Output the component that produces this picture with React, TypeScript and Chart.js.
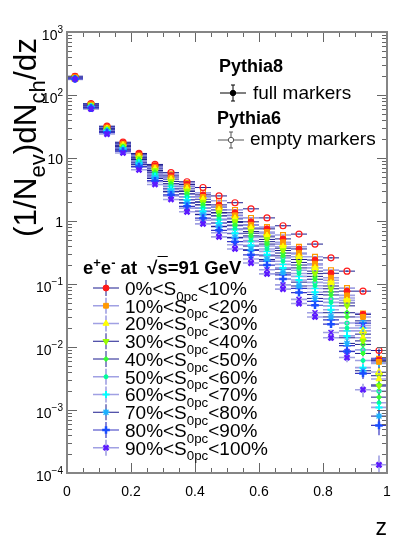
import React, { useEffect, useRef } from 'react';
import { Chart, registerables } from 'chart.js';
import { drawPoint } from 'chart.js/helpers';

Chart.register(...registerables);

const FONT = '"Liberation Sans", Arial, Helvetica, sans-serif';

// ---------------- data ----------------
const zCenters = [0.025, 0.075, 0.125, 0.175, 0.225, 0.275, 0.325, 0.375, 0.425, 0.475,
  0.525, 0.575, 0.625, 0.675, 0.725, 0.775, 0.825, 0.875, 0.925, 0.975];
const zHalfWidth = 0.025;

const sphLow = [0, 10, 20, 30, 40, 50, 60, 70, 80, 90];
const sphHigh = [10, 20, 30, 40, 50, 60, 70, 80, 90, 100];

// Pythia8 (full markers)
const p8_0 = [195, 72, 31, 17, 11.5, 7.5, 5.2, 3.8, 2.6, 1.8, 1.35, 0.97, 0.75, 0.52, 0.36, 0.24, 0.148, 0.077, 0.033, 0.0062];
const p8_1 = [192, 71, 30.5, 16.6, 11.0, 7.14, 4.9, 3.55, 2.41, 1.66, 1.23, 0.87, 0.67, 0.46, 0.31, 0.21, 0.126, 0.066, 0.030, 0.0058];
const p8_2 = [176, 63, 29.5, 16.1, 10.5, 6.77, 4.6, 3.28, 2.22, 1.51, 1.11, 0.78, 0.59, 0.39, 0.27, 0.18, 0.104, 0.055, 0.014, 0.0031];
const p8_3 = [188, 69, 29, 15.6, 10.0, 6.35, 4.24, 3.0, 2.0, 1.36, 0.98, 0.68, 0.51, 0.34, 0.22, 0.146, 0.084, 0.045, 0.0125, 0.0024];
const p8_4 = [186, 67, 28.5, 15.1, 9.45, 5.96, 3.9, 2.7, 1.81, 1.21, 0.86, 0.58, 0.43, 0.28, 0.18, 0.119, 0.067, 0.030, 0.0079, 0.0016];
const p8_5 = [184, 66, 27.5, 14.5, 8.9, 5.52, 3.54, 2.43, 1.61, 1.07, 0.75, 0.49, 0.36, 0.23, 0.147, 0.094, 0.051, 0.020, 0.0061, 0.0013];
const p8_6 = [183, 65, 27, 13.9, 8.3, 5.1, 3.19, 2.15, 1.42, 0.92, 0.64, 0.41, 0.29, 0.18, 0.116, 0.074, 0.039, 0.015, 0.0047, 0.0011];
const p8_7 = [182, 64, 26, 13.4, 7.8, 4.73, 2.9, 1.93, 1.26, 0.81, 0.55, 0.35, 0.245, 0.15, 0.093, 0.059, 0.030, 0.0114, 0.0042, 0.0008];
const p8_8 = [180, 62, 25.5, 12.9, 7.3, 4.36, 2.6, 1.71, 1.11, 0.71, 0.47, 0.29, 0.20, 0.12, 0.073, 0.046, 0.023, 0.0085, 0.0038, 0.00057];
const p8_9 = [178, 60, 24, 12.0, 6.5, 3.8, 2.2, 1.4, 0.9, 0.56, 0.36, 0.215, 0.145, 0.083, 0.049, 0.030, 0.014, 0.0068, 0.0021, 0.000135];

// Pythia6 (empty markers)
const p6_0 = [198, 73, 32, 17.8, 11.8, 7.9, 5.85, 4.2, 3.4, 2.5, 1.95, 1.56, 1.12, 0.84, 0.62, 0.43, 0.26, 0.16, 0.077, 0.0088];
const p6_1 = [196, 72, 31, 17.3, 11.6, 7.7, 5.5, 4.0, 2.8, 2.1, 1.5, 1.12, 0.8, 0.6, 0.39, 0.27, 0.166, 0.086, 0.034, 0.0065];
const p6_2 = [180, 65, 31, 17, 11.2, 7.2, 4.95, 3.55, 2.45, 1.66, 1.22, 0.86, 0.64, 0.43, 0.30, 0.2, 0.115, 0.06, 0.018, 0.004];
const p6_3 = [190, 70, 30, 16.5, 10.6, 6.8, 4.6, 3.25, 2.2, 1.5, 1.08, 0.75, 0.56, 0.37, 0.245, 0.16, 0.093, 0.05, 0.016, 0.0035];
const p6_4 = [188, 68, 29.5, 16, 10.1, 6.4, 4.25, 2.95, 2.0, 1.34, 0.95, 0.64, 0.47, 0.31, 0.2, 0.132, 0.075, 0.035, 0.011, 0.0025];
const p6_5 = [186, 67, 28.7, 15.4, 9.6, 6.0, 3.9, 2.68, 1.8, 1.2, 0.84, 0.55, 0.4, 0.26, 0.165, 0.106, 0.058, 0.024, 0.009, 0.002];
const p6_6 = [185, 66, 28, 14.8, 9.0, 5.6, 3.55, 2.4, 1.6, 1.04, 0.73, 0.47, 0.33, 0.205, 0.132, 0.085, 0.045, 0.018, 0.02, 0.0055];
const p6_7 = [184, 65, 27.3, 14.3, 8.5, 5.2, 3.25, 2.18, 1.43, 0.93, 0.63, 0.4, 0.28, 0.172, 0.107, 0.068, 0.035, 0.014, 0.026, 0.0062];
const p6_8 = [182, 63, 26.6, 13.8, 8.0, 4.8, 2.95, 1.95, 1.27, 0.82, 0.54, 0.34, 0.23, 0.14, 0.085, 0.053, 0.027, 0.0105, 0.024, 0.0066];
const p6_9 = [180, 61, 25.2, 12.9, 7.2, 4.2, 2.5, 1.6, 1.03, 0.65, 0.42, 0.25, 0.168, 0.097, 0.057, 0.035, 0.017, 0.0085, 0.022, 0.006];

// relative statistical errors per z bin, and per-class scaling
const relErrByBin = [0.005, 0.005, 0.005, 0.01, 0.01, 0.01, 0.01, 0.015, 0.015, 0.02,
  0.02, 0.025, 0.03, 0.035, 0.04, 0.05, 0.07, 0.1, 0.15, 0.25];
const errScaleByClass = [0.3, 0.4, 0.5, 0.6, 0.7, 0.8, 0.9, 1.0, 1.2, 1.6];

const xTickValues = [0, 0.2, 0.4, 0.6, 0.8, 1];
const xTickLabels = ['0', '0.2', '0.4', '0.6', '0.8', '1'];
const yTickValues = [1000, 100, 10, 1, 0.1, 0.01, 0.001, 0.0001];
const yTickLabels = ['10^{3}', '10^{2}', '10', '1', '10^{-1}', '10^{-2}', '10^{-3}', '10^{-4}'];

const pythia8Series = [p8_0, p8_1, p8_2, p8_3, p8_4, p8_5, p8_6, p8_7, p8_8, p8_9];
const pythia6Series = [p6_0, p6_1, p6_2, p6_3, p6_4, p6_5, p6_6, p6_7, p6_8, p6_9];

// ---------------- styles ----------------
const markerColors = ['#ff1a1a', '#ff9900', '#ffff00', '#99ff00', '#33ff33', '#00ff99', '#00ffff', '#1ab2ff', '#1a4dff', '#5c1aff'];
const DARK = '#1b1b8f';
const LIGHT = 'rgba(120,120,215,0.7)';
const MED = '#3535c2';
const barColors = [DARK, LIGHT, LIGHT, DARK, DARK, LIGHT, LIGHT, DARK, MED, LIGHT];
const barWidths = [1, 1.6, 1.6, 1, 1, 1.6, 1.6, 1, 1.2, 1.6];
const markerStyles = [
  { style: 'circle', r: 3, rot: 0, bw: 1 },
  { style: 'rect', r: 3.4, rot: 0, bw: 1 },
  { style: 'triangle', r: 3.5, rot: 0, bw: 1 },
  { style: 'triangle', r: 3.5, rot: 180, bw: 1 },
  { style: 'rectRot', r: 2.5, rot: 0, bw: 1 },
  { style: 'circle', r: 2, rot: 0, bw: 1 },
  { style: 'cross', r: 3.5, rot: 0, bw: 2 },
  { style: 'star', r: 3.5, rot: 0, bw: 1.3 },
  { style: 'cross', r: 3.8, rot: 0, bw: 2.5 },
  { style: 'crossRot', r: 3.5, rot: 0, bw: 2.5 },
];

const legendRowY = [288, 305.75, 323.5, 341.25, 359, 376.75, 394.5, 412.25, 430, 447.75];

function buildDatasets() {
  const mk = (vals: number[], k: number, open: boolean) => {
    const m = markerStyles[k];
    return {
      label: (open ? 'Pythia6 ' : 'Pythia8 ') + sphLow[k] + '-' + sphHigh[k],
      data: zCenters.map((z, j) => ({ x: z, y: vals[j] })),
      pointStyle: m.style,
      pointRadius: m.r,
      pointRotation: m.rot,
      pointBackgroundColor: open ? 'rgba(0,0,0,0)' : markerColors[k],
      pointBorderColor: markerColors[k],
      pointBorderWidth: open ? (m.bw > 1 ? m.bw * 0.6 : 1.2) : m.bw,
      showLine: false,
      barColor: barColors[k],
      barWidth: barWidths[k],
      errs: zCenters.map((_, j) => relErrByBin[j] * errScaleByClass[k]),
    };
  };
  const list: any[] = [];
  for (let k = 9; k >= 0; k--) list.push(mk(pythia6Series[k], k, true));
  for (let k = 0; k < 10; k++) list.push(mk(pythia8Series[k], k, false));
  list.forEach((d, i) => { d.order = list.length - i; });
  return list;
}

const errorBarPlugin = {
  id: 'errorBars',
  beforeDatasetsDraw(chart: any) {
    const { ctx, chartArea: a, scales } = chart;
    const xs = scales.x, ys = scales.y;
    ctx.save();
    ctx.beginPath();
    ctx.rect(a.left, a.top, a.right - a.left, a.bottom - a.top);
    ctx.clip();
    chart.data.datasets.forEach((ds: any) => {
      ctx.strokeStyle = ds.barColor;
      ctx.lineWidth = ds.barWidth;
      ds.data.forEach((p: any, j: number) => {
        const py = ys.getPixelForValue(p.y);
        const x0 = xs.getPixelForValue(p.x - zHalfWidth);
        const x1 = xs.getPixelForValue(p.x + zHalfWidth);
        const px = xs.getPixelForValue(p.x);
        const e = ds.errs[j];
        const yHi = ys.getPixelForValue(p.y * (1 + e));
        const yLo = ys.getPixelForValue(p.y * Math.max(1 - e, 0.05));
        ctx.beginPath();
        ctx.moveTo(x0, py); ctx.lineTo(x1, py);
        ctx.moveTo(px, yHi); ctx.lineTo(px, yLo);
        ctx.stroke();
      });
    });
    ctx.restore();
  },
};

function drawPowerLabel(ctx: CanvasRenderingContext2D, label: string, xRight: number, yTick: number) {
  const m = label.match(/^(\d+)(?:\^\{(.+)\})?$/);
  const base = m ? m[1] : label;
  const exp = m && m[2] ? m[2].replace('-', '\u2212') : '';
  ctx.font = `14px ${FONT}`;
  const wb = ctx.measureText(base).width;
  ctx.font = `10px ${FONT}`;
  const we = exp ? ctx.measureText(exp).width : 0;
  const x0 = xRight - wb - we;
  const baseY = exp ? yTick + 8 : yTick + 5.5;
  ctx.textAlign = 'left';
  ctx.textBaseline = 'alphabetic';
  ctx.fillStyle = '#000';
  ctx.font = `14px ${FONT}`;
  ctx.fillText(base, x0, baseY);
  if (exp) {
    ctx.font = `10px ${FONT}`;
    ctx.fillText(exp, x0 + wb, baseY - 7);
  }
}

const framePlugin = {
  id: 'rootFrame',
  afterDatasetsDraw(chart: any) {
    const { ctx, chartArea: a, scales } = chart;
    const xs = scales.x, ys = scales.y;
    ctx.save();
    // ticks
    ctx.strokeStyle = '#666';
    ctx.lineWidth = 1;
    ctx.beginPath();
    for (let i = 0; i <= 20; i++) {
      const v = i * 0.05;
      const px = Math.round(xs.getPixelForValue(v)) + 0.5;
      const len = i % 4 === 0 ? 10 : 5;
      ctx.moveTo(px, a.bottom); ctx.lineTo(px, a.bottom - len);
      ctx.moveTo(px, a.top); ctx.lineTo(px, a.top + len);
    }
    for (let d = -4; d <= 3; d++) {
      for (let m = 1; m <= 9; m++) {
        if (d === 3 && m > 1) break;
        const v = m * Math.pow(10, d);
        const py = Math.round(ys.getPixelForValue(v)) + 0.5;
        const len = m === 1 ? 10 : 5;
        ctx.moveTo(a.left, py); ctx.lineTo(a.left + len, py);
        ctx.moveTo(a.right, py); ctx.lineTo(a.right - len, py);
      }
    }
    ctx.stroke();
    // frame
    ctx.strokeStyle = '#858585';
    ctx.lineWidth = 2;
    ctx.strokeRect(a.left, a.top, a.right - a.left, a.bottom - a.top);
    // tick labels
    ctx.fillStyle = '#000';
    ctx.font = `14px ${FONT}`;
    ctx.textAlign = 'center';
    ctx.textBaseline = 'alphabetic';
    xTickValues.forEach((v, i) => {
      ctx.fillText(xTickLabels[i], xs.getPixelForValue(v), a.bottom + 23);
    });
    yTickValues.forEach((v, i) => {
      drawPowerLabel(ctx, yTickLabels[i], a.left - 4, ys.getPixelForValue(v));
    });
    ctx.restore();
  },
  afterDraw(chart: any) {
    const { ctx } = chart;
    ctx.save();
    // legend 1 symbols
    const sym = (x0: number, x1: number, y: number, color: string, filled: boolean) => {
      ctx.strokeStyle = color;
      ctx.lineWidth = 1;
      ctx.beginPath();
      ctx.moveTo(x0, y); ctx.lineTo(x1, y);
      const xc = (x0 + x1) / 2;
      ctx.moveTo(xc, y - 8); ctx.lineTo(xc, y + 8);
      ctx.moveTo(xc - 2, y - 8); ctx.lineTo(xc + 2, y - 8);
      ctx.moveTo(xc - 2, y + 8); ctx.lineTo(xc + 2, y + 8);
      ctx.stroke();
      ctx.fillStyle = filled ? color : '#fff';
      ctx.lineWidth = 1;
      drawPoint(ctx, { pointStyle: 'circle', radius: 2.7, rotation: 0, borderWidth: 1 } as any, xc, y);
    };
    sym(220, 246, 93, '#000', true);
    sym(218, 244, 140, '#555', false);
    // legend 2 symbols
    legendRowY.forEach((y, k) => {
      ctx.strokeStyle = barColors[k];
      ctx.lineWidth = barWidths[k];
      ctx.beginPath();
      ctx.moveTo(93, y); ctx.lineTo(119, y);
      ctx.moveTo(106, y - 8); ctx.lineTo(106, y + 8);
      ctx.stroke();
      const m = markerStyles[k];
      ctx.fillStyle = markerColors[k];
      ctx.strokeStyle = markerColors[k];
      ctx.lineWidth = m.bw;
      drawPoint(ctx, { pointStyle: m.style, radius: m.r, rotation: m.rot, borderWidth: m.bw } as any, 106, y);
    });
    ctx.restore();
  },
};

// ---------------- text helpers ----------------
function Txt(props: { left?: number; right?: number; baseline: number; size: number; bold?: boolean; children: any }) {
  const { left, right, baseline, size, bold, children } = props;
  const style: any = {
    position: 'absolute', top: baseline - 0.8465 * size, fontSize: size, lineHeight: size + 'px',
    fontFamily: FONT, fontWeight: bold ? 'bold' : 'normal', whiteSpace: 'nowrap', color: '#000',
  };
  if (left !== undefined) style.left = left;
  if (right !== undefined) style.right = right;
  return <div style={style}>{children}</div>;
}
function Sup({ children, scale = 0.7, shift = 0.42 }: any) {
  return <span style={{ fontSize: scale + 'em', position: 'relative', top: (-shift / scale) + 'em' }}>{children}</span>;
}
function Sub({ children, scale = 0.7, shift = 0.3 }: any) {
  return <span style={{ fontSize: scale + 'em', position: 'relative', top: (shift / scale) + 'em' }}>{children}</span>;
}

export default function App() {
  const ref = useRef<HTMLCanvasElement>(null);
  useEffect(() => {
    if (!ref.current) return;
    const chart = new Chart(ref.current, {
      type: 'scatter',
      data: { datasets: buildDatasets() },
      options: {
        responsive: false,
        maintainAspectRatio: false,
        animation: false,
        events: [],
        layout: { padding: { top: 32, right: 12, bottom: 0, left: 0 } },
        plugins: { legend: { display: false }, tooltip: { enabled: false }, title: { display: false } },
        scales: {
          x: {
            type: 'linear', min: 0, max: 1,
            grid: { display: false }, border: { display: false }, ticks: { display: false },
            afterFit: (s: any) => { s.height = 82; },
          },
          y: {
            type: 'logarithmic', min: 1e-4, max: 1e3,
            grid: { display: false }, border: { display: false }, ticks: { display: false },
            afterFit: (s: any) => { s.width = 67; },
          },
        },
      } as any,
      plugins: [errorBarPlugin, framePlugin],
    });
    return () => chart.destroy();
  }, []);

  return (
    <div style={{ position: 'absolute', left: 0, top: 0, width: 399, height: 555, background: '#fff', overflow: 'hidden' }}>
      <canvas ref={ref} width={399} height={555} style={{ display: 'block', width: 399, height: 555 }} />
      <div style={{
        position: 'absolute', left: 10, top: 237, transformOrigin: '0 0', transform: 'rotate(-90deg)',
        fontSize: 31.5, lineHeight: '31.5px', fontFamily: FONT, whiteSpace: 'nowrap', color: '#000',
      }}>(1/N<Sub>ev</Sub>)dN<Sub>ch</Sub>/dz</div>
      <Txt right={399 - 387} baseline={535} size={23}>z</Txt>
      <Txt left={219} baseline={72} size={18} bold>Pythia8</Txt>
      <Txt left={253} baseline={99} size={19}>full markers</Txt>
      <Txt left={217} baseline={124} size={18} bold>Pythia6</Txt>
      <Txt left={250} baseline={145} size={19}>empty markers</Txt>
      <Txt left={83} baseline={275} size={18.5} bold>
        e<Sup>+</Sup>e<Sup>-</Sup> at{'\u00a0\u00a0'}{'\u221A'}<span style={{ textDecoration: 'overline' }}>s</span>=91 GeV
      </Txt>
      {sphLow.map((lo, k) => (
        <Txt key={k} left={125} baseline={legendRowY[k] + 7} size={19}>
          {`${lo}%<S`}<Sub>0pc</Sub>{`<${sphHigh[k]}%`}
        </Txt>
      ))}
    </div>
  );
}
